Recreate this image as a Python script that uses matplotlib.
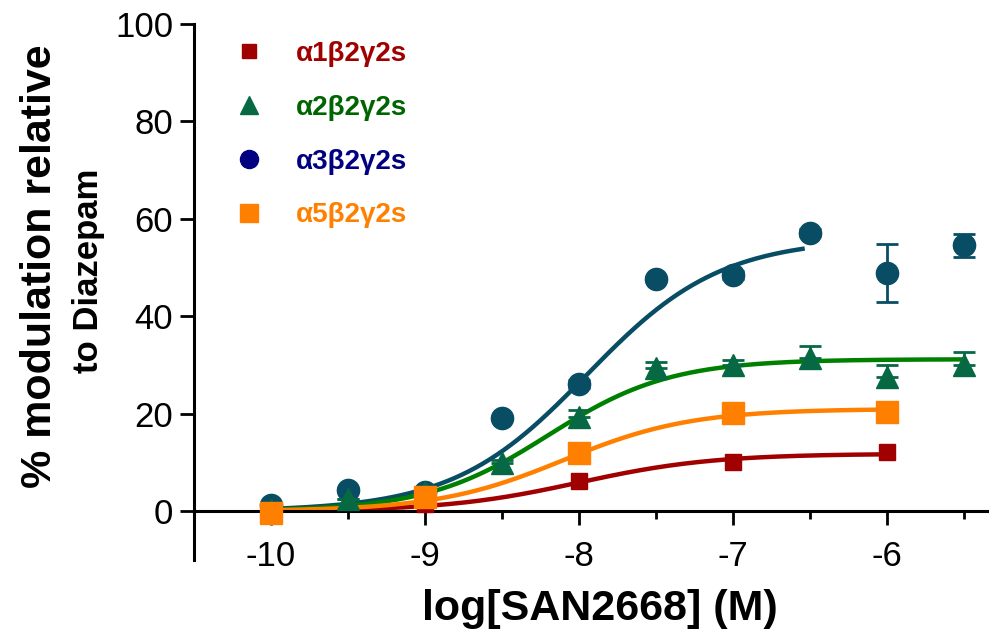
import numpy as np
import matplotlib
matplotlib.use('Agg')
import matplotlib.pyplot as plt
from matplotlib.lines import Line2D

plt.rcParams['font.family'] = ['Liberation Sans', 'DejaVu Sans']
plt.rcParams['axes.unicode_minus'] = False

# Data (log[SAN2668] in M, % modulation)
labels = ['α1β2γ2s', 'α2β2γ2s', 'α3β2γ2s', 'α5β2γ2s']

x_a1 = [-10, -9, -8, -7, -6]
y_a1 = [0.0, 1.5, 6.2, 10.2, 12.1]

x_a2 = [-10, -9.5, -9, -8.5, -8, -7.5, -7, -6.5, -6, -5.5]
y_a2 = [0.3, 2.6, 4.0, 9.9, 19.3, 29.3, 30.0, 31.4, 27.6, 30.0]
e_a2 = [0.0, 0.0, 0.0, 0.6, 1.5, 1.4, 1.0, 2.5, 2.4, 2.7]

x_a3 = [-10, -9.5, -9, -8.5, -8, -7.5, -7, -6.5, -6, -5.5]
y_a3 = [1.2, 4.3, 4.0, 19.1, 26.1, 47.6, 48.5, 57.2, 48.9, 54.6]
e_a3 = [0.0, 0.0, 0.0, 0.0, 0.8, 0.0, 0.8, 0.8, 6.0, 2.4]

x_a5 = [-10, -9, -8, -7, -6]
y_a5 = [-0.3, 2.9, 11.9, 20.1, 20.3]

# 4-parameter logistic fits: bottom, top, logEC50, hill, x-range of fit line
fit_a1 = [0.0, 11.8, -8.0, 1.0, -10, -6]
fit_a2 = [0.0, 31.2, -8.2, 1.1, -10, -5.5]
fit_a3 = [0.0, 56.0, -7.95, 1.0, -10, -6.55]
fit_a5 = [0.0, 21.0, -8.1, 1.05, -10, -6]

c_a1 = '#a00000'
c_a2_pts = '#076943'
c_a2_line = '#008000'
c_a3 = '#084d63'
c_a5 = '#ff8000'


def hill(p):
    bottom, top, ec50, h, x0, x1 = p
    xx = np.linspace(x0, x1, 300)
    return xx, bottom + (top - bottom) / (1 + 10 ** ((ec50 - xx) * h))


fig = plt.figure(figsize=(9.89, 6.32), dpi=100)
ax = fig.add_axes([0.196, 0.114, 0.804, 0.848])

# fit lines
xx, yy = hill(fit_a3)
ax.plot(xx, yy, color=c_a3, lw=3.2, zorder=2)
xx, yy = hill(fit_a2)
ax.plot(xx, yy, color=c_a2_line, lw=3.2, zorder=2)
xx, yy = hill(fit_a1)
ax.plot(xx, yy, color=c_a1, lw=3.2, zorder=2)
xx, yy = hill(fit_a5)
ax.plot(xx, yy, color=c_a5, lw=3.2, zorder=2)

# points
ax.errorbar(x_a3, y_a3, yerr=e_a3, fmt='o', ms=16, color=c_a3, ecolor=c_a3,
            elinewidth=2, capsize=8, capthick=2, zorder=3)
ax.errorbar(x_a2, y_a2, yerr=[np.zeros(len(e_a2)), e_a2], fmt='^', ms=16,
            color=c_a2_pts, ecolor=c_a2_pts, elinewidth=2, capsize=8,
            capthick=2, zorder=4)
ax.plot(x_a1, y_a1, 's', ms=12, color=c_a1, zorder=5)
ax.plot(x_a5, y_a5, 's', ms=16, color=c_a5, zorder=6)

# axes
ax.set_xlim(-10.5, -5.34)
ax.set_ylim(-10, 100)
ax.spines['top'].set_visible(False)
ax.spines['right'].set_visible(False)
ax.spines['bottom'].set_position(('data', 0))
ax.spines['left'].set_linewidth(2.2)
ax.spines['bottom'].set_linewidth(2.2)
ax.set_xticks([-10, -9, -8, -7, -6])
ax.set_xticks([-9.5, -8.5, -7.5, -6.5, -5.5], minor=True)
ax.set_yticks([0, 20, 40, 60, 80, 100])
ax.tick_params(axis='both', which='major', length=10, width=2, labelsize=25)
ax.tick_params(axis='x', which='major', pad=11)
ax.tick_params(axis='y', which='major', pad=5)
ax.tick_params(axis='x', which='minor', length=6, width=2)

fig.text(0.607, 0.036, 'log[SAN2668] (M)', fontsize=31, fontweight='bold',
         ha='center', va='center')
fig.text(0.040, 0.579, '% modulation relative', fontsize=31, fontweight='bold',
         rotation=90, ha='center', va='center')
fig.text(0.089, 0.571, 'to Diazepam', fontsize=25, fontweight='bold',
         rotation=90, ha='center', va='center')

# legend
handles = [
    Line2D([], [], ls='none', marker='s', ms=10, color=c_a1),
    Line2D([], [], ls='none', marker='^', ms=13, color=c_a2_pts),
    Line2D([], [], ls='none', marker='o', ms=13, color='#000080'),
    Line2D([], [], ls='none', marker='s', ms=13, color=c_a5),
]
ax.legend(handles, labels, loc='upper left', bbox_to_anchor=(0.02, 1.015),
          frameon=False, prop={'weight': 'bold', 'size': 20},
          labelcolor=[c_a1, '#006400', '#000080', c_a5],
          handlelength=1.0, handletextpad=1.2, labelspacing=1.0)

fig.savefig('out.png', dpi=100)
